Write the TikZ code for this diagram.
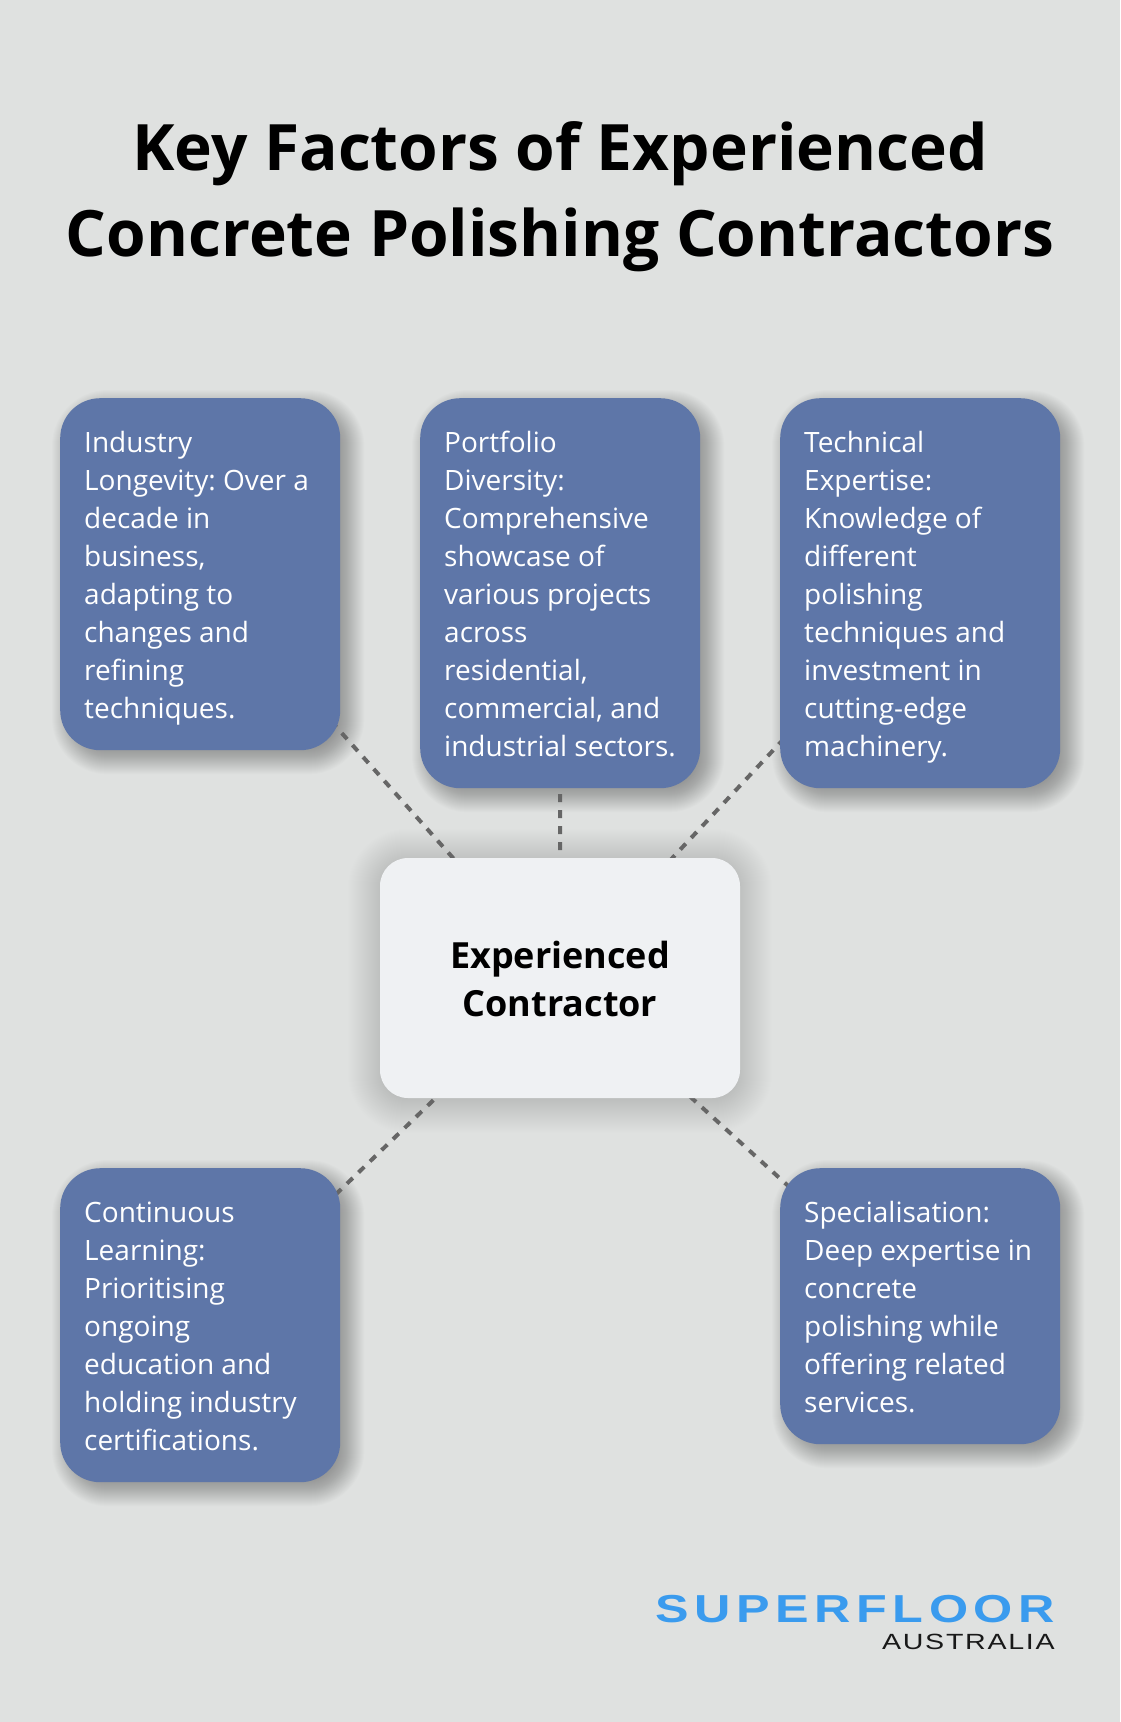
\documentclass[tikz,border=0pt]{standalone}
\usepackage{fontspec}
\setmainfont{Open Sans}
\newfontfamily\logofont[LetterSpace=11]{Liberation Sans}
\newfontfamily\subfont[LetterSpace=6]{Liberation Sans}
\usetikzlibrary{positioning, calc, backgrounds}
\definecolor{PageGrey}{RGB}{223, 225, 224}
\definecolor{FactorBlue}{RGB}{94, 118, 168}
\definecolor{HubWhite}{RGB}{239, 241, 243}
\definecolor{LinkGrey}{RGB}{102, 102, 102}
\definecolor{LogoBlue}{RGB}{58, 155, 238}
\newcommand{\linestrut}{\vrule height 30pt depth 8pt width 0pt\relax}
% node, x offset, y offset, radius, spread, opacity
\newcommand{\softshadow}[6]{%
  \foreach \s in {-#5,...,#5}{
    \pgfmathsetmacro{\rr}{max(#4+\s,1)}
    \fill[black, fill opacity=#6, rounded corners=\rr pt] ($(#1.north west)+(#2-\s,#3-\s)$) rectangle ($(#1.south east)+(#2+\s,#3+\s)$);
  }
}

\begin{document}
\begin{tikzpicture}[
    x=1pt, y=-1pt,
    factor/.style={rectangle, fill=FactorBlue, text=white, rounded corners=40pt, anchor=north west, minimum width=280pt, text width=232pt, inner xsep=24pt, inner ysep=24pt, align=flush left, font=\fontsize{28}{38}\selectfont\frenchspacing},
    hub/.style={rectangle, fill=HubWhite, text=black, rounded corners=28pt, minimum width=360pt, minimum height=240pt, align=center, font=\fontsize{36}{48}\selectfont\bfseries},
    link/.style={draw=LinkGrey, line width=4pt, dash pattern=on 8pt off 8pt}
]

% Factors
\node[factor] (longevity) at (60,398) {\linestrut Industry\\Longevity: Over a\\decade in\\business,\\adapting to\\changes and\\refining\\techniques.\linestrut};
\node[factor] (diversity) at (420,398) {\linestrut Portfolio\\Diversity:\\Comprehensive\\showcase of\\various projects\\across\\residential,\\commercial, and\\\mbox{industrial sectors.}\linestrut};
\node[factor] (expertise) at (780,398) {\linestrut Technical\\Expertise:\\Knowledge of\\different\\polishing\\techniques and\\investment in\\cutting-edge\\machinery.\linestrut};
\node[factor] (learning) at (60,1168) {\linestrut Continuous\\Learning:\\Prioritising\\ongoing\\education and\\holding industry\\certifications.\linestrut};
\node[factor] (special) at (780,1168) {\linestrut Specialisation:\\Deep expertise in\\concrete\\polishing while\\offering related\\services.\linestrut};

% Centre
\node[hub] (contractor) at (560,978) {\vrule height 29pt width 0pt\relax Experienced\\Contractor};

% Page, shadows and links
\begin{scope}[on background layer]
\fill[PageGrey] (0,0) rectangle (1120,1722);
\foreach \n in {longevity, diversity, expertise, learning, special}{
  \softshadow{\n}{8}{8}{40}{16}{0.011}
}
\softshadow{contractor}{0}{3}{28}{32}{0.004}
\foreach \n in {longevity, diversity, expertise, learning, special}{
  \draw[link] (contractor.center) -- (\n.center);
}
\end{scope}

% Title
\node[align=flush center, font=\fontsize{64}{86}\selectfont\bfseries] (title) at (560,197) {Key Factors of Experienced\\Concrete Polishing Contractors};

% Logo
\node[anchor=east, text=LogoBlue, inner sep=0pt, font=\fontsize{39}{39}\selectfont\logofont\bfseries, xscale=1.29, transform shape] (brand) at (1055,1609) {SUPERFLOOR};
\node[anchor=east, text=black!90, inner sep=0pt, font=\fontsize{22}{22}\selectfont\subfont, xscale=1.3, transform shape] (region) at (1055,1642) {AUSTRALIA};

\end{tikzpicture}
\end{document}
